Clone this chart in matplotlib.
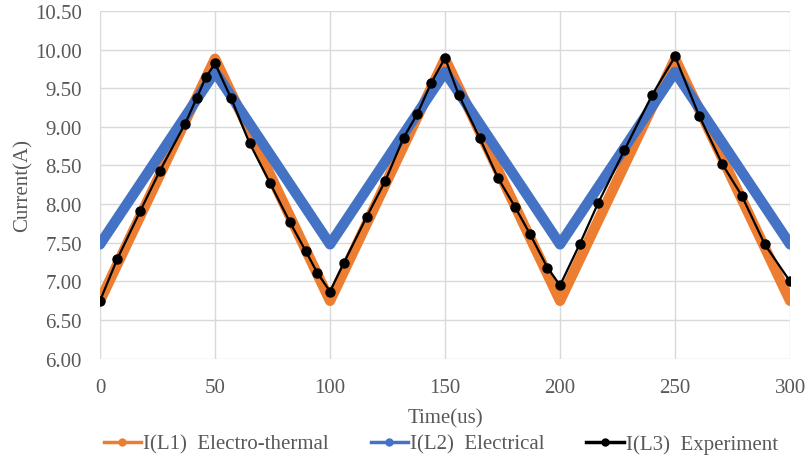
import matplotlib
matplotlib.use('Agg')
import matplotlib.pyplot as plt
from matplotlib.lines import Line2D

plt.rcParams['font.family'] = ['Liberation Serif', 'DejaVu Serif']

# I(L1) electro-thermal (triangle vertices)
t_l1 = [0, 50, 100, 150, 200, 250, 300]
i_l1 = [6.75, 9.88, 6.75, 9.88, 6.75, 9.88, 6.75]

# I(L2) electrical
t_l2 = [0, 50, 100, 150, 200, 250, 300]
i_l2 = [7.48, 9.71, 7.48, 9.71, 7.48, 9.71, 7.48]

# I(L3) experiment
t_l3 = [0, 7.5, 17.5, 26, 37, 42, 46, 50, 57, 65, 74, 82.5, 89.5, 94.5, 100,
        106, 116, 124, 132, 138, 144, 150, 156, 165, 173, 180.5, 187, 194.5, 200,
        208.5, 216.5, 228, 240, 250, 260.5, 270.5, 279, 289, 300]
i_l3 = [6.75, 7.29, 7.91, 8.43, 9.04, 9.37, 9.64, 9.82, 9.37, 8.79, 8.27, 7.77, 7.39, 7.11, 6.87,
        7.24, 7.84, 8.30, 8.86, 9.17, 9.57, 9.89, 9.41, 8.86, 8.34, 7.96, 7.61, 7.18, 6.95,
        7.48, 8.01, 8.70, 9.41, 9.91, 9.14, 8.52, 8.11, 7.48, 7.00]

labels = ['I(L1)  Electro-thermal', 'I(L2)  Electrical', 'I(L3)  Experiment']
colors = ['#ED7D31', '#4472C4', '#000000']

fig = plt.figure(figsize=(8.09, 4.56), dpi=100)
ax = fig.add_axes([0.1236, 0.211, 0.853, 0.763])

ax.plot(t_l1, i_l1, color=colors[0], lw=7.5, solid_capstyle='round',
        solid_joinstyle='round', zorder=3)
ax.plot(t_l2, i_l2, color=colors[1], lw=7.5, solid_capstyle='round',
        solid_joinstyle='round', zorder=4)
ax.plot(t_l3, i_l3, color=colors[2], lw=1.6, marker='o', ms=6.5, zorder=5)

ax.set_xlim(0, 300)
ax.set_ylim(6.0, 10.5)
ax.set_xticks(range(0, 301, 50))
ax.set_yticks([6.0 + 0.5 * k for k in range(10)])
ax.set_yticklabels([f'{6.0 + 0.5 * k:.2f}' for k in range(10)])
ax.grid(True, color='#d9d9d9', lw=1)
ax.set_axisbelow(True)
for s in ax.spines.values():
    s.set_visible(False)
ax.tick_params(length=0, labelsize=15, colors='#595959')
ax.tick_params(axis='x', pad=14)
ax.tick_params(axis='y', pad=13)
ax.set_xlabel('Time(us)', fontsize=15, color='#595959', labelpad=8)
ax.set_ylabel('Current(A)', fontsize=15, color='#595959', labelpad=2)

handles = [Line2D([], [], color=c, lw=2.5, marker='o', ms=5) for c in colors]
fig.legend(handles, labels, loc='center', bbox_to_anchor=(0.545, 0.024), ncol=3,
           frameon=False, fontsize=15, handlelength=1.8, handletextpad=0.1,
           columnspacing=2.0, labelcolor='#595959')

fig.savefig('out.png', dpi=100)
